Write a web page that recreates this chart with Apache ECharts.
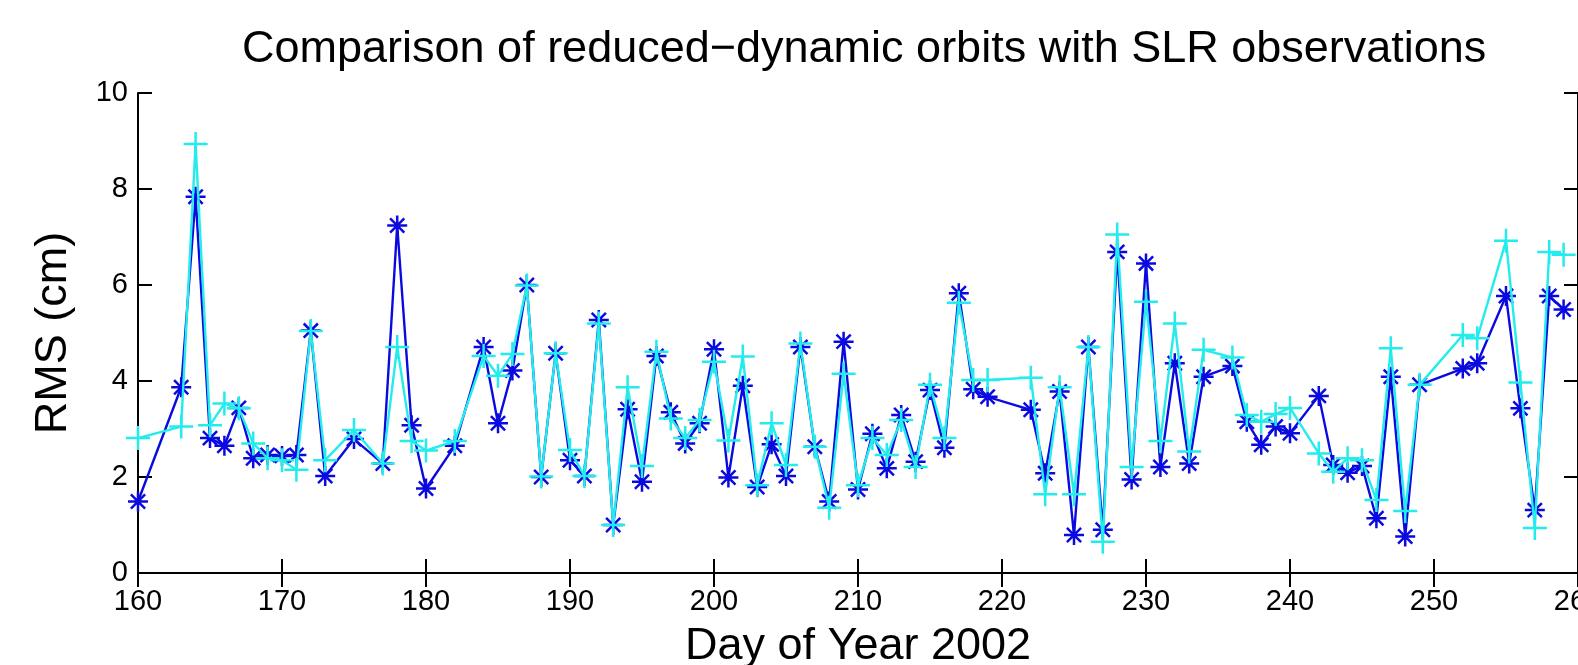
<!DOCTYPE html>
<html>
<head>
<meta charset="utf-8">
<title>SLR comparison</title>
<script src="https://cdn.jsdelivr.net/npm/echarts@6/dist/echarts.min.js"></script>
<style>
  html, body { margin: 0; padding: 0; background: #fff; }
  #chart { width: 1578px; height: 665px; }
</style>
</head>
<body>
<div id="chart"></div>
<script>
// day of year 2002
var days = [160,163,164,165,166,167,168,169,170,171,172,173,175,177,178,179,180,182,184,185,186,187,188,189,190,191,192,193,194,195,196,197,198,199,200,201,202,203,204,205,206,207,208,209,210,211,212,213,214,215,216,217,218,219,222,223,224,225,226,227,228,229,230,231,232,233,234,236,237,238,239,240,242,243,244,245,246,247,248,249,252,253,255,256,257,258,259];
// RMS (cm), blue asterisks
var rmsBlue = [1.49,3.87,7.84,2.81,2.65,3.44,2.39,2.46,2.44,2.46,5.05,2.02,2.79,2.28,7.24,3.08,1.76,2.65,4.71,3.12,4.22,6.00,2.00,4.58,2.35,2.02,5.27,1.00,3.41,1.90,4.52,3.35,2.70,3.12,4.66,1.99,3.90,1.79,2.68,2.02,4.71,2.63,1.49,4.82,1.74,2.90,2.18,3.29,2.32,3.81,2.61,5.83,3.83,3.67,3.40,2.08,3.78,0.79,4.71,0.90,6.69,1.95,6.45,2.21,4.37,2.28,4.09,4.31,3.15,2.67,3.05,2.91,3.69,2.25,2.09,2.23,1.14,4.09,0.76,3.92,4.26,4.37,5.77,3.43,1.31,5.77,5.49];
// RMS (cm), cyan plus
var rmsCyan = [2.81,3.05,8.94,3.08,3.53,3.43,2.70,2.39,2.35,2.15,5.04,2.35,2.98,2.28,4.71,2.75,2.55,2.75,4.52,4.11,4.56,5.99,2.01,4.58,2.56,2.02,5.20,1.00,3.87,2.23,4.61,3.22,2.81,3.19,4.40,2.76,4.51,1.83,3.12,2.25,4.78,2.63,1.36,4.15,1.83,2.81,2.46,3.19,2.21,3.92,2.81,5.63,4.02,4.02,4.07,1.64,3.87,1.64,4.71,0.65,7.05,2.21,5.65,2.75,5.20,2.53,4.65,4.49,3.29,3.15,3.31,3.44,2.49,2.11,2.39,2.35,1.52,4.68,1.29,3.92,4.96,4.89,6.92,3.97,0.94,6.69,6.63];

var FONT = 'Liberation Sans, Arial, Helvetica, sans-serif'
var ASTERISK = 'path://M0,-1L0,1M-1,0L1,0M-0.71,-0.71L0.71,0.71M-0.71,0.71L0.71,-0.71'
var PLUS = 'path://M0,-1L0,1M-1,0L1,0'

function pairs(xs, ys) {
  return xs.map(function (d, i) { return [d, ys[i]] })
}

var chart = echarts.init(document.getElementById('chart'))

var axisLine = { show: true, lineStyle: { color: '#000', width: 2 } }
var axisTick = { show: true, inside: true, length: 14, lineStyle: { color: '#000', width: 2 } }

var option = {
  animation: false,
  title: {
    text: 'Comparison of reduced\u2212dynamic orbits with SLR observations',
    left: 237,
    top: 22,
    textStyle: { fontFamily: FONT, fontSize: 45, fontWeight: 'normal', color: '#000' }
  },
  // the plot box runs off the right edge of the picture, as in the original
  grid: { left: 138, top: 93, width: 1440, height: 480, outerBoundsMode: 'none', containLabel: false },
  xAxis: [
    {
      type: 'value', min: 160, max: 260, interval: 10, position: 'bottom',
      name: 'Day of Year 2002', nameLocation: 'middle', nameGap: 51,
      nameTextStyle: { fontFamily: FONT, fontSize: 45, color: '#000' },
      axisLine: axisLine, axisTick: axisTick,
      axisLabel: { fontFamily: FONT, fontSize: 29, color: '#000', margin: 14 },
      splitLine: { show: false }
    },
    {
      type: 'value', min: 160, max: 260, interval: 10, position: 'top',
      axisLine: axisLine, axisTick: axisTick,
      axisLabel: { show: false }, splitLine: { show: false }
    }
  ],
  yAxis: [
    {
      type: 'value', min: 0, max: 10, interval: 2, position: 'left',
      name: 'RMS (cm)', nameLocation: 'middle', nameGap: 62,
      nameTextStyle: { fontFamily: FONT, fontSize: 45, color: '#000' },
      axisLine: axisLine, axisTick: axisTick,
      axisLabel: { fontFamily: FONT, fontSize: 29, color: '#000', margin: 10 },
      splitLine: { show: false }
    },
    {
      type: 'value', min: 0, max: 10, interval: 2, position: 'right',
      axisLine: axisLine, axisTick: axisTick,
      axisLabel: { show: false }, splitLine: { show: false }
    }
  ],
  series: [
    {
      name: 'blue', type: 'line',
      data: pairs(days, rmsBlue),
      symbol: ASTERISK, symbolSize: 20, showAllSymbol: true,
      lineStyle: { color: '#0a0ae0', width: 2.4 },
      itemStyle: { color: 'rgba(0,0,0,0)', borderColor: '#0a0ae0', borderWidth: 2.5 },
      z: 2
    },
    {
      name: 'cyan', type: 'line',
      data: pairs(days, rmsCyan),
      symbol: PLUS, symbolSize: 24, showAllSymbol: true,
      lineStyle: { color: '#22ecec', width: 2.4 },
      itemStyle: { color: 'rgba(0,0,0,0)', borderColor: '#22ecec', borderWidth: 2.5 },
      z: 3
    }
  ]
}

chart.setOption(option)
</script>
</body>
</html>
